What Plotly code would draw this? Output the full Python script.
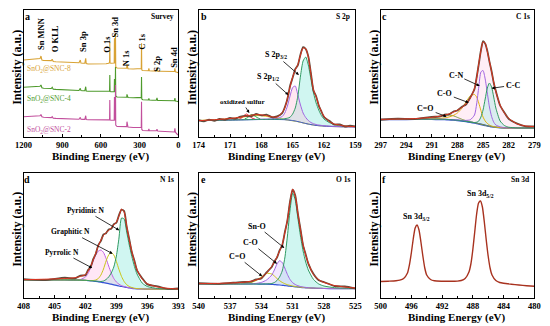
import plotly.graph_objects as go

# ---------------- data ----------------
survey_energy = [1200, 1150, 1100, 1080, 1072, 1065, 1058, 1045, 1000, 985,
                 978, 970, 950, 900, 850, 800, 770, 760, 755, 740,
                 725, 718, 714, 700, 650, 600, 560, 540, 533, 531,
                 529, 520, 505, 497, 495, 493, 489, 487, 485, 475,
                 450, 420, 405, 400, 398, 390, 350, 300, 290, 287,
                 285, 283, 275, 250, 232, 228, 224, 200, 170, 165,
                 160, 140, 100, 60, 30, 26, 22, 10, 0]
survey_snc8 = [77.0, 77.3, 77.6, 77.8, 78.5, 81.0, 77.0, 76.5, 76.3, 76.4,
               77.8, 75.5, 75.2, 74.8, 74.4, 74.0, 74.2, 77.0, 74.0, 73.8,
               73.8, 78.7, 73.5, 73.0, 73.0, 73.0, 73.3, 73.8, 74.5, 95.3,
               74.0, 73.8, 73.7, 74.0, 98.7, 73.5, 73.5, 103.7, 70.0, 69.0,
               68.7, 68.5, 68.6, 68.8, 73.0, 68.3, 68.0, 68.0, 68.2, 68.5,
               93.7, 67.0, 66.5, 66.3, 66.3, 68.7, 66.2, 66.0, 66.0, 69.3,
               65.9, 65.8, 65.6, 65.5, 65.5, 68.7, 65.2, 64.8, 64.3]
survey_snc4 = [49.7, 50.0, 50.2, 50.3, 50.8, 52.0, 49.3, 48.8, 48.6, 48.5,
               49.7, 47.8, 47.6, 47.2, 46.8, 46.5, 46.5, 48.7, 46.4, 46.2,
               46.2, 50.3, 46.0, 45.8, 45.6, 45.5, 45.5, 45.6, 45.8, 62.0,
               45.5, 45.3, 45.2, 45.3, 58.0, 45.0, 45.0, 70.0, 41.0, 40.0,
               39.7, 39.6, 39.6, 39.8, 42.7, 39.5, 39.3, 39.3, 39.4, 39.6,
               60.0, 38.0, 37.2, 37.0, 37.0, 38.5, 37.0, 36.8, 36.8, 39.0,
               36.6, 36.5, 36.3, 36.2, 36.2, 39.0, 36.0, 35.7, 35.3]
survey_snc2 = [20.3, 20.6, 20.8, 21.0, 21.3, 22.5, 20.2, 19.7, 19.5, 19.4,
               20.3, 18.8, 18.6, 18.3, 18.0, 17.8, 17.8, 19.7, 17.7, 17.6,
               17.6, 21.3, 17.4, 17.2, 17.0, 17.0, 17.0, 17.1, 17.3, 37.0,
               17.0, 16.8, 16.7, 16.8, 40.0, 16.6, 16.6, 52.0, 12.0, 10.5,
               10.3, 10.2, 10.2, 10.4, 15.3, 10.0, 9.5, 9.3, 9.4, 9.6,
               35.3, 7.5, 6.5, 6.3, 6.3, 8.0, 6.3, 6.2, 6.2, 7.7,
               6.0, 5.8, 5.5, 5.2, 5.0, 8.7, 4.8, 3.0, 2.0]

# S 2p
s2p_energy = [174, 172.5, 171, 170, 169.5, 169, 168.5, 168, 167.5, 167,
              166.5, 166, 165.75, 165.5, 165.25, 165, 164.75, 164.5, 164.25, 164,
              163.75, 163.5, 163.25, 163, 162.75, 162.5, 162.25, 162, 161.5, 161,
              160.5, 160, 159]
s2p_fit = [16.3, 17.3, 18.5, 19.8, 20.8, 21.8, 22.3, 22.2, 21.3, 20.3,
           19.8, 24.5, 29.0, 38.7, 50.2, 60.0, 67.0, 72.5, 82.0, 89.0,
           88.5, 80.0, 63.0, 47.0, 40.0, 32.0, 25.5, 21.0, 15.5, 13.0,
           12.0, 11.0, 10.3]
s2p_bg = [16.3, 16.6, 16.9, 17.1, 17.2, 17.3, 17.4, 17.5, 17.5, 17.5,
          17.5, 17.4, 17.3, 17.1, 16.8, 16.4, 16.0, 15.4, 14.8, 14.1,
          13.5, 12.9, 12.4, 12.0, 11.6, 11.3, 11.1, 10.9, 10.6, 10.4,
          10.3, 10.2, 10.1]
s2p_half = [16.4, 16.7, 17.0, 17.3, 17.4, 17.5, 17.7, 17.8, 18.0, 18.3,
            18.8, 20.5, 24.0, 31.0, 41.0, 49.5, 51.0, 42.0, 32.0, 24.0,
            19.5, 16.5, 14.5, 13.3, 12.5, 12.0, 11.6, 11.3, 10.9, 10.6,
            10.4, 10.3, 10.1]
s2p_three_half = [16.4, 16.7, 17.0, 17.2, 17.3, 17.4, 17.5, 17.6, 17.6, 17.7,
                  17.8, 18.0, 18.3, 18.8, 19.8, 23.0, 29.0, 41.0, 61.0, 76.0,
                  80.0, 72.0, 58.0, 44.0, 34.0, 27.0, 21.5, 18.0, 14.5, 12.5,
                  11.5, 11.0, 10.4]
s2p_oxidized = [16.5, 17.3, 18.2, 19.5, 20.4, 21.0, 21.4, 21.3, 20.6, 19.6,
                18.6, 17.8, 17.4, 17.0, 16.6, 16.2, 15.8, 15.3, 14.7, 14.1,
                13.5, 12.9, 12.4, 12.0, 11.6, 11.3, 11.1, 10.9, 10.6, 10.4,
                10.3, 10.2, 10.1]
s2p_raw_energy = [174, 173.5, 173, 172.5, 172, 171.5, 171, 170.5, 170, 169.5,
                  169, 168.5, 168, 167.5, 167, 166.5, 166, 165.75, 165.5, 165.25,
                  165, 164.75, 164.5, 164.25, 164, 163.75, 163.5, 163.25, 163, 162.75,
                  162.5, 162.25, 162, 161.5, 161, 160.5, 160, 159.5, 159]
s2p_raw = [16.8, 15.6, 17.4, 16.2, 18.0, 17.1, 19.0, 18.2, 20.4, 21.2,
           20.6, 23.0, 21.6, 22.4, 19.8, 20.6, 23.9, 29.8, 38.0, 51.0,
           59.2, 67.8, 71.8, 82.6, 89.8, 88.0, 80.6, 63.8, 46.2, 40.8,
           31.4, 25.6, 20.0, 16.2, 12.4, 12.6, 10.5, 11.4, 10.6]
ox_a_energy = [170.2, 169.9, 169.6, 169.4, 169.2, 168.9, 168.6]
ox_a = [17.5, 19.0, 22.0, 23.0, 21.5, 19.0, 17.8]
ox_b_energy = [169.6, 169.3, 169.1, 168.9, 168.7, 168.4, 168.1]
ox_b = [18.0, 19.5, 21.5, 22.5, 21.5, 19.5, 18.0]

# C 1s
c1s_energy = [297, 295, 293, 291, 290, 289.5, 289, 288.5, 288, 287.5,
              287, 286.5, 286, 285.75, 285.5, 285.25, 285, 284.75, 284.5, 284.25,
              284, 283.75, 283.5, 283, 282.5, 282, 281, 280, 279]
c1s_fit = [17.7, 17.9, 18.4, 19.7, 21.0, 22.0, 23.0, 24.8, 27.0, 29.5,
           33.0, 38.7, 48.7, 59.0, 73.5, 86.0, 95.0, 94.0, 85.5, 76.0,
           65.3, 55.0, 45.3, 32.0, 24.0, 18.7, 13.0, 11.0, 10.3]
c1s_raw = [17.2, 18.3, 18.0, 20.1, 20.6, 22.4, 22.6, 25.3, 26.5, 30.1,
           32.5, 39.4, 48.0, 59.6, 72.8, 86.6, 95.8, 93.4, 86.2, 75.4,
           65.8, 54.3, 45.9, 31.5, 24.5, 18.2, 13.4, 10.6, 10.7]
c1s_bg = [17.5, 17.6, 17.7, 17.7, 17.6, 17.5, 17.3, 17.0, 16.6, 16.1,
          15.5, 14.8, 14.0, 13.6, 13.1, 12.6, 12.1, 11.6, 11.1, 10.7,
          10.3, 10.0, 9.7, 9.3, 9.1, 9.0, 9.0, 9.0, 9.0]
c1s_cc = [17.6, 17.7, 17.8, 17.8, 17.7, 17.6, 17.4, 17.1, 16.7, 16.2,
          15.6, 15.0, 14.5, 14.8, 16.0, 20.0, 27.0, 38.0, 49.0, 54.0,
          50.0, 40.0, 29.0, 16.0, 11.5, 9.8, 9.1, 9.0, 9.0]
c1s_cn = [17.6, 17.7, 17.8, 17.8, 17.7, 17.6, 17.4, 17.1, 16.9, 16.6,
          16.6, 17.2, 22.0, 33.0, 50.0, 65.0, 66.5, 58.0, 44.0, 30.0,
          20.5, 14.8, 12.0, 10.2, 9.4, 9.1, 9.0, 9.0, 9.0]
c1s_co = [17.6, 17.7, 17.9, 18.2, 18.6, 19.2, 20.0, 21.5, 24.0, 28.5,
          35.0, 41.0, 42.5, 40.0, 34.0, 26.5, 20.0, 16.0, 13.6, 12.0,
          11.0, 10.4, 10.0, 9.5, 9.2, 9.0, 9.0, 9.0, 9.0]
c1s_c_double_o = [17.6, 17.7, 18.0, 19.0, 20.5, 21.5, 22.0, 21.3, 19.6, 17.8,
                  16.3, 15.2, 14.3, 13.8, 13.3, 12.8, 12.3, 11.7, 11.2, 10.8,
                  10.4, 10.0, 9.7, 9.3, 9.1, 9.0, 9.0, 9.0, 9.0]

# N 1s
n1s_energy = [408, 406, 404, 403, 402.5, 402, 401.75, 401.5, 401.25, 401,
              400.75, 400.5, 400.25, 400, 399.75, 399.5, 399.25, 399, 398.75, 398.5,
              398.25, 398, 397.75, 397.5, 397.25, 397, 396.5, 396, 395, 394, 393]
n1s_fit = [18.3, 18.8, 19.5, 20.3, 21.5, 23.5, 27.0, 31.7, 38.0, 45.0,
           52.0, 58.0, 62.5, 65.5, 67.5, 70.0, 73.0, 76.0, 82.0, 89.0,
           86.0, 72.0, 58.0, 46.5, 36.5, 28.5, 19.0, 14.3, 11.0, 9.7, 9.0]
n1s_raw = [18.8, 17.9, 20.3, 19.6, 22.4, 22.8, 27.9, 30.9, 38.8, 44.2,
           53.0, 57.2, 63.6, 64.8, 68.6, 69.2, 73.8, 75.3, 82.8, 88.4,
           86.9, 71.2, 58.8, 45.7, 37.3, 27.6, 19.8, 13.6, 11.7, 9.1, 9.6]
n1s_bg = [18.0, 18.0, 18.0, 17.9, 17.8, 17.6, 17.4, 17.2, 16.9, 16.6,
          16.2, 15.8, 15.3, 14.8, 14.3, 13.8, 13.2, 12.6, 12.0, 11.5,
          11.0, 10.5, 10.1, 9.7, 9.4, 9.2, 9.0, 8.9, 8.9, 8.9, 8.9]
n1s_pyrrolic = [18.1, 18.1, 18.2, 18.2, 18.5, 21.0, 24.5, 30.0, 37.0, 43.0,
                47.0, 48.0, 45.5, 39.5, 32.0, 25.0, 19.5, 16.0, 13.8, 12.4,
                11.5, 10.8, 10.3, 9.9, 9.5, 9.3, 9.0, 8.9, 8.9, 8.9, 8.9]
n1s_graphitic = [18.1, 18.1, 18.1, 18.0, 17.9, 17.7, 17.5, 17.4, 17.5, 18.0,
                 19.5, 23.0, 29.0, 37.0, 43.0, 45.5, 43.0, 36.5, 28.5, 21.5,
                 16.5, 13.3, 11.5, 10.5, 9.8, 9.4, 9.1, 8.9, 8.9, 8.9, 8.9]
n1s_pyridinic = [18.1, 18.1, 18.1, 18.0, 17.9, 17.7, 17.5, 17.3, 17.1, 16.9,
                 16.7, 16.5, 17.0, 18.5, 21.0, 25.0, 31.0, 42.0, 60.0, 80.0,
                 79.0, 66.0, 53.0, 41.5, 31.5, 24.0, 15.0, 11.5, 9.5, 9.0, 8.9]

# O 1s
o1s_energy = [540, 538, 536, 535, 534.5, 534, 533.5, 533, 532.75, 532.5,
              532.25, 532, 531.75, 531.5, 531.25, 531, 530.75, 530.5, 530.25, 530,
              529.75, 529.5, 529, 528.5, 528, 527, 526, 525]
o1s_fit = [14.3, 14.7, 15.5, 16.7, 18.0, 20.0, 25.0, 31.7, 36.0, 41.0,
           47.0, 53.3, 65.0, 78.3, 96.0, 109.0, 102.0, 85.0, 68.3, 53.3,
           43.0, 35.0, 23.3, 18.3, 15.5, 12.5, 11.0, 10.0]
o1s_raw = [14.8, 14.2, 15.9, 16.3, 18.6, 19.5, 25.6, 31.1, 36.7, 40.4,
           47.6, 52.7, 65.6, 77.7, 96.6, 108.4, 102.6, 84.4, 68.9, 52.6,
           43.6, 34.4, 23.9, 17.7, 16.0, 12.0, 11.5, 9.6]
o1s_bg = [14.0, 14.0, 14.0, 14.0, 14.0, 13.9, 13.8, 13.6, 13.4, 13.2,
          13.0, 12.7, 12.4, 12.1, 11.8, 11.5, 11.2, 10.9, 10.6, 10.4,
          10.2, 10.0, 9.8, 9.6, 9.5, 9.4, 9.4, 9.4]
o1s_sno = [14.0, 14.0, 14.0, 14.0, 14.0, 14.0, 14.1, 14.5, 15.5, 17.5,
           21.0, 27.0, 40.0, 62.0, 88.0, 105.0, 98.0, 80.0, 62.0, 47.0,
           36.0, 28.0, 18.5, 14.0, 12.0, 10.3, 9.8, 9.5]
o1s_co = [14.0, 14.0, 14.1, 14.2, 14.6, 15.6, 18.0, 23.0, 28.0, 34.0,
          37.3, 35.5, 30.0, 23.5, 18.5, 15.3, 13.5, 12.3, 11.5, 11.0,
          10.6, 10.3, 9.9, 9.7, 9.5, 9.4, 9.4, 9.4]
o1s_c_double_o = [14.0, 14.1, 14.3, 15.5, 17.5, 21.0, 24.7, 24.0, 22.0, 19.5,
                  17.3, 15.6, 14.3, 13.3, 12.6, 12.0, 11.5, 11.1, 10.8, 10.5,
                  10.3, 10.1, 9.9, 9.7, 9.6, 9.5, 9.4, 9.4]

# Sn 3d
sn3d_energy = [500, 499, 498, 497.5, 497, 496.5, 496.25, 496, 495.75, 495.5,
               495.25, 495, 494.75, 494.5, 494.25, 494, 493.5, 493, 492, 491,
               490, 489.5, 489, 488.5, 488.25, 488, 487.75, 487.5, 487.25, 487,
               486.75, 486.5, 486.25, 486, 485.75, 485.5, 485, 484.5, 484, 483,
               482, 481, 480]
sn3d_intensity = [16.5, 16.8, 17.2, 17.8, 19.5, 25.0, 33.0, 45.0, 59.0, 70.0,
                  73.0, 68.0, 56.0, 42.0, 30.0, 23.0, 18.5, 17.2, 16.8, 16.7,
                  16.9, 17.5, 19.5, 26.0, 34.0, 48.0, 66.0, 84.0, 95.0, 97.0,
                  91.0, 76.0, 58.0, 42.0, 30.0, 23.0, 17.5, 15.5, 14.7, 13.8,
                  13.0, 12.3, 11.7]

# ---------------- styling ----------------
FONT = "Liberation Serif, Times New Roman, serif"
W, H = 550, 326
COLS = [(15, 174), (195, 356), (382, 540)]
ROWS = [(10, 137), (173, 298)]

RAW = "#5e4c3c"
FIT = "#e2321f"
BLUE = "#3552d6"
GREEN = "#2f9a62"
PURPLE = "#a065e0"
YELLOW = "#c9c516"
ORANGE = "#d8a234"
OLIVE = "#7c9a3a"
SNC4 = "#4e9a2c"
SNC2 = "#c24f9c"

fig = go.Figure()

panels = [
    ("", 0, 0, [1200, 0], 300, 0, [0, 127]),
    ("2", 1, 0, [174, 159], 3, 159, [0, 127]),
    ("3", 2, 0, [297, 279], 3, 279, [0, 127]),
    ("4", 0, 1, [408, 393], 3, 393, [0, 125]),
    ("5", 1, 1, [540, 525], 3, 525, [0, 125]),
    ("6", 2, 1, [500, 480], 4, 480, [0, 125]),
]
layout_axes = {}
for sfx, c, r, xr, dt, t0, yr in panels:
    x0, x1 = COLS[c]
    top, bot = ROWS[r]
    layout_axes["xaxis" + sfx] = dict(
        domain=[x0 / W, x1 / W], range=xr, anchor="y" + sfx,
        tickmode="linear", tick0=t0, dtick=dt,
        ticks="inside", ticklen=3.5, tickwidth=1, tickcolor="black",
        showline=True, linecolor="black", linewidth=1, mirror=True,
        showgrid=False, zeroline=False,
        tickfont=dict(family=FONT, size=8.5, color="black", weight="bold"),
        minor=dict(ticks="inside", ticklen=2, tickwidth=1, tickcolor="black",
                   dtick=dt / 2, tick0=t0, showgrid=False),
    )
    layout_axes["yaxis" + sfx] = dict(
        domain=[1 - bot / H, 1 - top / H], range=yr, anchor="x" + sfx,
        showticklabels=False, ticks="", showline=True, linecolor="black",
        linewidth=1, mirror=True, showgrid=False, zeroline=False,
    )


def ax(sfx):
    return dict(xaxis="x" + sfx, yaxis="y" + sfx)


def line(sfx, x, y, color, width=1.0, shape="spline", **kw):
    fig.add_trace(go.Scatter(x=x, y=y, mode="lines", showlegend=False,
                             line=dict(color=color, width=width, shape=shape,
                                       smoothing=0.6), hoverinfo="skip",
                             **ax(sfx), **kw))


def band(sfx, x, base, comp, fillcolor):
    fig.add_trace(go.Scatter(x=x, y=base, mode="lines", showlegend=False,
                             line=dict(width=0, shape="spline", smoothing=0.6),
                             hoverinfo="skip", **ax(sfx)))
    fig.add_trace(go.Scatter(x=x, y=comp, mode="lines", showlegend=False,
                             line=dict(width=0, shape="spline", smoothing=0.6),
                             fill="tonexty", fillcolor=fillcolor,
                             hoverinfo="skip", **ax(sfx)))


# Panel a - survey
line("", survey_energy, survey_snc8, ORANGE, 1.1, "linear")
line("", survey_energy, survey_snc4, SNC4, 1.1, "linear")
line("", survey_energy, survey_snc2, SNC2, 1.1, "linear")

# Panel b - S 2p
band("2", s2p_energy, s2p_bg, s2p_three_half, "rgba(150,235,225,0.45)")
band("2", s2p_energy, s2p_bg, s2p_half, "rgba(255,185,215,0.35)")
line("2", s2p_energy, s2p_oxidized, YELLOW, 1.0)
line("2", s2p_energy, s2p_bg, BLUE, 1.0)
line("2", ox_a_energy, ox_a, "#e8303a", 1.0)
line("2", ox_b_energy, ox_b, "#22b04a", 1.0)
line("2", s2p_energy, s2p_half, PURPLE, 1.0)
line("2", s2p_energy, s2p_three_half, GREEN, 1.0)
line("2", s2p_raw_energy, s2p_raw, RAW, 1.8)
line("2", s2p_energy, s2p_fit, FIT, 1.0)

# Panel c - C 1s
band("3", c1s_energy, c1s_bg, c1s_fit, "rgba(255,205,230,0.35)")
band("3", c1s_energy, c1s_bg, c1s_cc, "rgba(150,235,225,0.35)")
line("3", c1s_energy, c1s_bg, BLUE, 1.6)
line("3", c1s_energy, c1s_c_double_o, OLIVE, 1.0)
line("3", c1s_energy, c1s_co, "#e0b010", 1.0)
line("3", c1s_energy, c1s_cn, PURPLE, 1.0)
line("3", c1s_energy, c1s_cc, GREEN, 1.0)
line("3", c1s_energy, c1s_raw, RAW, 1.8)
line("3", c1s_energy, c1s_fit, FIT, 1.0)

# Panel d - N 1s
band("4", n1s_energy, n1s_bg, n1s_pyridinic, "rgba(150,235,225,0.45)")
band("4", n1s_energy, n1s_bg, n1s_pyrrolic, "rgba(255,185,230,0.35)")
line("4", n1s_energy, n1s_bg, BLUE, 1.2)
line("4", n1s_energy, n1s_pyrrolic, "#c060e0", 1.0)
line("4", n1s_energy, n1s_graphitic, YELLOW, 1.0)
line("4", n1s_energy, n1s_pyridinic, GREEN, 1.0)
line("4", n1s_energy, n1s_raw, RAW, 1.8)
line("4", n1s_energy, n1s_fit, FIT, 1.0)

# Panel e - O 1s
band("5", o1s_energy, o1s_bg, o1s_sno, "rgba(150,235,225,0.45)")
band("5", o1s_energy, o1s_bg, o1s_co, "rgba(220,190,255,0.35)")
line("5", o1s_energy, o1s_bg, BLUE, 1.2)
line("5", o1s_energy, o1s_c_double_o, YELLOW, 1.0)
line("5", o1s_energy, o1s_co, PURPLE, 1.0)
line("5", o1s_energy, o1s_sno, GREEN, 1.0)
line("5", o1s_energy, o1s_raw, RAW, 1.8)
line("5", o1s_energy, o1s_fit, FIT, 1.0)

# Panel f - Sn 3d
line("6", sn3d_energy, sn3d_intensity, "#a8321f", 1.4)

# ---------------- text ----------------
ann = []


def txt(x, y, text, size=8, color="black", angle=0, xanchor="center", bold=True):
    ann.append(dict(x=x / W, y=1 - y / H, xref="paper", yref="paper",
                    text=text, showarrow=False, textangle=angle,
                    xanchor=xanchor, yanchor="middle",
                    font=dict(family=FONT, size=size, color=color,
                              weight="bold" if bold else "normal")))


def arrow(sfx, x, y, dx, dy, text, size=8):
    ann.append(dict(x=x, y=y, xref="x" + sfx, yref="y" + sfx, ax=dx, ay=dy,
                    text=text, showarrow=True, arrowhead=2, arrowsize=0.8,
                    arrowwidth=0.8, arrowcolor="black",
                    font=dict(family=FONT, size=size, color="black", weight="bold")))


letters = [("a", 19, 16), ("b", 200, 16), ("c", 386, 16),
           ("d", 19, 179), ("e", 200, 179), ("f", 386, 179)]
for t, x, y in letters:
    txt(x, y, t, size=10)
titles = [("Survey", 172, 16), ("S 2p", 353, 16), ("C 1s", 538, 16),
          ("N 1s", 172, 179), ("O 1s", 353, 179), ("Sn 3d", 538, 179)]
for t, x, y in titles:
    txt(x, y, t, size=7.5, xanchor="right")

for c, (x0, x1) in enumerate(COLS):
    for r, (top, bot) in enumerate(ROWS):
        txt((x0 + x1) / 2, bot + 19.5, "Binding Energy (eV)", size=11)
        txt(x0 - 7.5, (top + bot) / 2 - 6, "Intensity (a.u.)", size=12, angle=-90)

# survey labels
survey_labels = [("Sn MNN", 33, 34), ("O KLL", 47.5, 39), ("Sn 3p", 76, 41),
                 ("O 1s", 100, 44.5), ("Sn 3d", 109, 27.5), ("N 1s", 121, 57.5),
                 ("C 1s", 136, 41.5), ("S 2p", 152, 64), ("Sn 4d", 170, 57.5)]
for t, x, y in survey_labels:
    txt(x, y, t, size=8.5, angle=-90)
txt(16, 69, "SnO<sub>2</sub>@SNC-8", size=7.5, color=ORANGE, xanchor="left", bold=False)
txt(16, 99, "SnO<sub>2</sub>@SNC-4", size=7.5, color=SNC4, xanchor="left", bold=False)
txt(16, 129.5, "SnO<sub>2</sub>@SNC-2", size=7.5, color=SNC2, xanchor="left", bold=False)

# S 2p
arrow("2", 164.4, 62, -23, -20, "S 2p<sub>3/2</sub>")
arrow("2", 165.4, 42, -20, -18, "S 2p<sub>1/2</sub>")
arrow("2", 169.15, 24, -7, -11, "oxidized sulfur", size=7)
# C 1s
arrow("3", 285.38, 51, -24, -11, "C-N")
arrow("3", 284.0, 48.7, 21, -3, "C-C")
arrow("3", 286.67, 34.3, -24, -9, "C-O")
arrow("3", 289.26, 20.3, -21, -8, "C=O")
# N 1s
arrow("4", 398.72, 67.7, -34, -20, "Pyridinic N", size=7.5)
arrow("4", 399.36, 44.3, -42, -22, "Graphitic N", size=7.5)
arrow("4", 401.35, 30, -30, -16, "Pyrrolic N", size=7.5)
# O 1s
arrow("5", 531.8, 50, -27, -22, "Sn-O")
arrow("5", 532.5, 34.3, -26, -21, "C-O")
arrow("5", 533.92, 21.7, -25, -20, "C=O")
# Sn 3d
txt(419, 217, "Sn 3d<sub>3/2</sub>", size=8)
txt(485, 194, "Sn 3d<sub>5/2</sub>", size=8)

fig.update_layout(width=W, height=H, margin=dict(l=0, r=0, t=0, b=0),
                  paper_bgcolor="white", plot_bgcolor="white",
                  annotations=ann, **layout_axes)
fig.write_html("out.html", config={"displayModeBar": False},
               post_script="document.body.style.margin='0px';"
                           "document.body.style.overflow='hidden';")
